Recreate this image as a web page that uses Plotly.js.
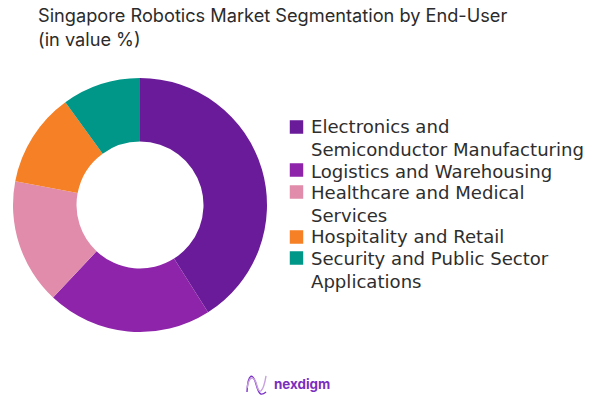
<!DOCTYPE html>
<html>
<head>
<meta charset="utf-8">
<script src="https://cdn.plot.ly/plotly-3.0.1.min.js"></script>
<style>html,body{margin:0;padding:0;background:#fff}#c{width:597px;height:402px}</style>
</head>
<body>
<div id="c"></div>
<script>
const categories = ["Electronics and<br>Semiconductor Manufacturing","Logistics and Warehousing","Healthcare and Medical<br>Services","Hospitality and Retail","Security and Public Sector<br>Applications"];
const shares = [41, 21, 16, 12, 10];
const sliceColors = ["#6A1B9A","#8E24AA","#E08CAA","#F58026","#009688"];
const titleText = "Singapore Robotics Market Segmentation by End-User<br>(in value %)";
const brandText = "nexdigm";
const legendRowCenters = [126, 171, 192, 236, 258];
const legendSymbolCenters = [127, 170, 192, 237, 258];
const legendLineGap = 24;
const W = 597, H = 402;
const px = v => v / W, py = v => 1 - v / H;
const logo = (d, c) => ({type:"path", xref:"paper", yref:"paper", path:d, line:{color:c, width:1.4}, layer:"above"});
const pt = (x,y) => px(x).toFixed(4) + "," + py(y).toFixed(4);
const logoShapes = [
  logo("M "+pt(247,392)+" C "+pt(248,372)+" "+pt(253,373)+" "+pt(256,384)+" S "+pt(261,396)+" "+pt(266,392), "#7B35C4"),
  logo("M "+pt(247,388)+" C "+pt(250,372)+" "+pt(255,378)+" "+pt(257,386)+" S "+pt(263,394)+" "+pt(266,376), "#C9A0E0")
];
Plotly.newPlot("c", [{
  type:"pie", labels:categories, values:shares, hole:0.5, sort:false, direction:"clockwise", rotation:0,
  marker:{colors:sliceColors, line:{width:0}}, textinfo:"none", hoverinfo:"label+percent",
  domain:{x:[13/W,267/W], y:[(H-332)/H,(H-78)/H]}
}], {
  width:W, height:H, margin:{l:0,r:0,t:0,b:0}, paper_bgcolor:"#fff",
  font:{family:"Inter, sans-serif", color:"#2b2b2b"},
  title:{text:titleText, x:38/W, xanchor:"left", y:1-22/H, yanchor:"top", font:{size:18.2, color:"#2b2b2b", family:"Inter, sans-serif"}},
  showlegend:true,
  legend:{x:276.5/W, xanchor:"left", y:py(110), yanchor:"top", font:{size:18.1, family:"DejaVu Sans, sans-serif", color:"#2e2e2e"}, bgcolor:"rgba(0,0,0,0)", traceorder:"normal"},
  annotations:[{text:"<b>"+brandText+"</b>", xref:"paper", yref:"paper", x:px(272), y:py(384), xanchor:"left", yanchor:"middle", showarrow:false, font:{size:13.4, color:"#7B2FBE", family:"Inter, sans-serif"}}],
  shapes:logoShapes
}, {displayModeBar:false, staticPlot:true}).then(gd => {
  // Set the legend's rows to the reference's spacing.
  gd.querySelectorAll(".legend .traces").forEach((g, i) => {
    const text = g.querySelector("text.legendtext");
    const lines = text.querySelectorAll("tspan.line");
    if (lines.length > 1) {
      lines.forEach((l, k) => l.setAttribute("dy", (k * legendLineGap) + "px"));
    }
    text.setAttribute("transform", "translate(-5.5,0)");
    const m = /translate\(([-\d.]+)[, ]+([-\d.]+)\)/.exec(g.getAttribute("transform"));
    const first = lines[0] || text;
    const r = first.getBoundingClientRect();
    const delta = legendRowCenters[i] - (r.top + r.height / 2);
    g.setAttribute("transform", "translate(" + m[1] + "," + (parseFloat(m[2]) + delta) + ")");
    g.querySelectorAll(".legendpoints path").forEach(p => {
      const s = p.getBoundingClientRect();
      const d = legendSymbolCenters[i] - (s.top + s.height / 2);
      const t = p.getAttribute("transform") || "";
      p.setAttribute("transform", "translate(0," + d + ") " + t + " scale(1.12)");
    });
  });
});
</script>
</body>
</html>
